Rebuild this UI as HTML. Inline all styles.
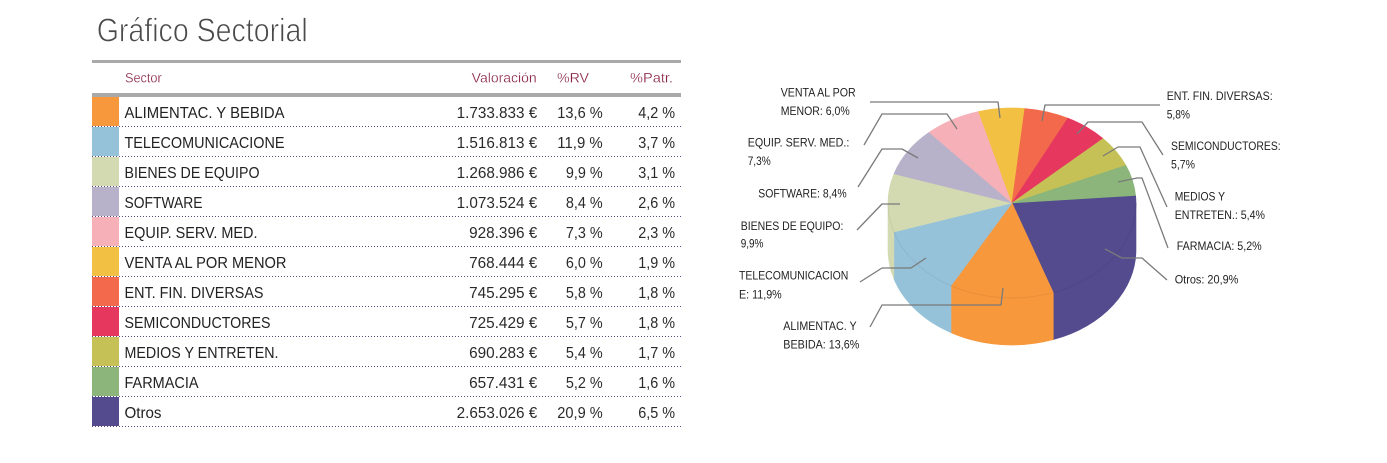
<!DOCTYPE html>
<html>
<head>
<meta charset="utf-8">
<style>
  html,body{margin:0;padding:0;background:#fff;}
  body{width:1387px;height:463px;overflow:hidden;}
  svg{display:block;}
  text{font-family:"Liberation Sans","DejaVu Sans",sans-serif;}
</style>
</head>
<body>
<svg width="1387" height="463" viewBox="0 0 1387 463" xmlns="http://www.w3.org/2000/svg">
  <rect width="1387" height="463" fill="#fff"/>

  <!-- Title -->
  <text x="96.7" y="41.7" font-size="33" fill="#4a4a4a" stroke="#fff" stroke-width="0.8" textLength="211" lengthAdjust="spacingAndGlyphs">Gráfico Sectorial</text>

  <!-- Table bars -->
  <rect x="92" y="60" width="589" height="3" fill="#a9a9a9"/>
  <rect x="92" y="93" width="589" height="4" fill="#a9a9a9"/>

  <!-- Header -->
  <g font-size="13.5" fill="#8a2447" stroke="#fff" stroke-width="0.2">
    <text x="125" y="82.5" textLength="36.7" lengthAdjust="spacingAndGlyphs">Sector</text>
    <text x="471.7" y="82.5" textLength="65" lengthAdjust="spacingAndGlyphs">Valoración</text>
    <text x="557" y="82.5" textLength="32" lengthAdjust="spacingAndGlyphs">%RV</text>
    <text x="630" y="82.5" textLength="43" lengthAdjust="spacingAndGlyphs">%Patr.</text>
  </g>

  <!-- Swatches -->
  <rect x="92" y="97" width="27" height="29" fill="#f7983d"/>
  <rect x="92" y="127" width="27" height="29" fill="#96c2d9"/>
  <rect x="92" y="157" width="27" height="29" fill="#d3dab1"/>
  <rect x="92" y="187" width="27" height="29" fill="#b8b1ca"/>
  <rect x="92" y="217" width="27" height="29" fill="#f5b0b8"/>
  <rect x="92" y="247" width="27" height="29" fill="#f2c043"/>
  <rect x="92" y="277" width="27" height="29" fill="#f26a4b"/>
  <rect x="92" y="307" width="27" height="29" fill="#e6375f"/>
  <rect x="92" y="337" width="27" height="29" fill="#c6c156"/>
  <rect x="92" y="367" width="27" height="29" fill="#8bb57a"/>
  <rect x="92" y="397" width="27" height="29" fill="#544a8e"/>

  <!-- Dotted separators -->
  <g stroke="#5a4a85" stroke-width="1" stroke-dasharray="1 2">
    <line x1="92" y1="126.5" x2="681" y2="126.5"/>
    <line x1="92" y1="156.5" x2="681" y2="156.5"/>
    <line x1="92" y1="186.5" x2="681" y2="186.5"/>
    <line x1="92" y1="216.5" x2="681" y2="216.5"/>
    <line x1="92" y1="246.5" x2="681" y2="246.5"/>
    <line x1="92" y1="276.5" x2="681" y2="276.5"/>
    <line x1="92" y1="306.5" x2="681" y2="306.5"/>
    <line x1="92" y1="336.5" x2="681" y2="336.5"/>
    <line x1="92" y1="366.5" x2="681" y2="366.5"/>
    <line x1="92" y1="396.5" x2="681" y2="396.5"/>
    <line x1="92" y1="426.5" x2="681" y2="426.5"/>
  </g>

  <!-- Row names -->
  <g font-size="16" fill="#222">
    <text x="124.5" y="118" textLength="160" lengthAdjust="spacingAndGlyphs">ALIMENTAC. Y BEBIDA</text>
    <text x="124.5" y="148" textLength="160" lengthAdjust="spacingAndGlyphs">TELECOMUNICACIONE</text>
    <text x="124.5" y="178" textLength="135" lengthAdjust="spacingAndGlyphs">BIENES DE EQUIPO</text>
    <text x="124.5" y="208" textLength="78" lengthAdjust="spacingAndGlyphs">SOFTWARE</text>
    <text x="124.5" y="238" textLength="133" lengthAdjust="spacingAndGlyphs">EQUIP. SERV. MED.</text>
    <text x="124.5" y="268" textLength="162" lengthAdjust="spacingAndGlyphs">VENTA AL POR MENOR</text>
    <text x="124.5" y="298" textLength="139" lengthAdjust="spacingAndGlyphs">ENT. FIN. DIVERSAS</text>
    <text x="124.5" y="328" textLength="146" lengthAdjust="spacingAndGlyphs">SEMICONDUCTORES</text>
    <text x="124.5" y="358" textLength="154" lengthAdjust="spacingAndGlyphs">MEDIOS Y ENTRETEN.</text>
    <text x="124.5" y="388" textLength="74" lengthAdjust="spacingAndGlyphs">FARMACIA</text>
    <text x="124.5" y="418" textLength="37" lengthAdjust="spacingAndGlyphs">Otros</text>
  </g>

  <!-- Valoración -->
  <g font-size="16" fill="#2a2a2a" text-anchor="end">
    <text x="537.3" y="118" textLength="80.7" lengthAdjust="spacingAndGlyphs">1.733.833 €</text>
    <text x="537.3" y="148" textLength="80.7" lengthAdjust="spacingAndGlyphs">1.516.813 €</text>
    <text x="537.3" y="178" textLength="80.7" lengthAdjust="spacingAndGlyphs">1.268.986 €</text>
    <text x="537.3" y="208" textLength="80.7" lengthAdjust="spacingAndGlyphs">1.073.524 €</text>
    <text x="537.3" y="238" textLength="68.2" lengthAdjust="spacingAndGlyphs">928.396 €</text>
    <text x="537.3" y="268" textLength="68.2" lengthAdjust="spacingAndGlyphs">768.444 €</text>
    <text x="537.3" y="298" textLength="68.2" lengthAdjust="spacingAndGlyphs">745.295 €</text>
    <text x="537.3" y="328" textLength="68.2" lengthAdjust="spacingAndGlyphs">725.429 €</text>
    <text x="537.3" y="358" textLength="68.2" lengthAdjust="spacingAndGlyphs">690.283 €</text>
    <text x="537.3" y="388" textLength="68.2" lengthAdjust="spacingAndGlyphs">657.431 €</text>
    <text x="537.3" y="418" textLength="80.7" lengthAdjust="spacingAndGlyphs">2.653.026 €</text>
  </g>

  <!-- %RV -->
  <g font-size="16" fill="#2a2a2a" text-anchor="end">
    <text x="602.7" y="118" textLength="45.4" lengthAdjust="spacingAndGlyphs">13,6 %</text>
    <text x="602.7" y="148" textLength="45.4" lengthAdjust="spacingAndGlyphs">11,9 %</text>
    <text x="602.7" y="178" textLength="36.8" lengthAdjust="spacingAndGlyphs">9,9 %</text>
    <text x="602.7" y="208" textLength="36.8" lengthAdjust="spacingAndGlyphs">8,4 %</text>
    <text x="602.7" y="238" textLength="36.8" lengthAdjust="spacingAndGlyphs">7,3 %</text>
    <text x="602.7" y="268" textLength="36.8" lengthAdjust="spacingAndGlyphs">6,0 %</text>
    <text x="602.7" y="298" textLength="36.8" lengthAdjust="spacingAndGlyphs">5,8 %</text>
    <text x="602.7" y="328" textLength="36.8" lengthAdjust="spacingAndGlyphs">5,7 %</text>
    <text x="602.7" y="358" textLength="36.8" lengthAdjust="spacingAndGlyphs">5,4 %</text>
    <text x="602.7" y="388" textLength="36.8" lengthAdjust="spacingAndGlyphs">5,2 %</text>
    <text x="602.7" y="418" textLength="45.4" lengthAdjust="spacingAndGlyphs">20,9 %</text>
  </g>

  <!-- %Patr -->
  <g font-size="16" fill="#2a2a2a" text-anchor="end">
    <text x="675" y="118" textLength="36.8" lengthAdjust="spacingAndGlyphs">4,2 %</text>
    <text x="675" y="148" textLength="36.8" lengthAdjust="spacingAndGlyphs">3,7 %</text>
    <text x="675" y="178" textLength="36.8" lengthAdjust="spacingAndGlyphs">3,1 %</text>
    <text x="675" y="208" textLength="36.8" lengthAdjust="spacingAndGlyphs">2,6 %</text>
    <text x="675" y="238" textLength="36.8" lengthAdjust="spacingAndGlyphs">2,3 %</text>
    <text x="675" y="268" textLength="36.8" lengthAdjust="spacingAndGlyphs">1,9 %</text>
    <text x="675" y="298" textLength="36.8" lengthAdjust="spacingAndGlyphs">1,8 %</text>
    <text x="675" y="328" textLength="36.8" lengthAdjust="spacingAndGlyphs">1,8 %</text>
    <text x="675" y="358" textLength="36.8" lengthAdjust="spacingAndGlyphs">1,7 %</text>
    <text x="675" y="388" textLength="36.8" lengthAdjust="spacingAndGlyphs">1,6 %</text>
    <text x="675" y="418" textLength="36.8" lengthAdjust="spacingAndGlyphs">6,5 %</text>
  </g>

  <!-- PIE: side walls -->
  <g stroke-width="0.6">
    <path d="M1136 203 A124 95 0 0 1 1053.3 292.6 L1053.3 339.6 A124 95 0 0 0 1136 250 Z" fill="#544a8e" stroke="#544a8e"/>
    <path d="M1053.3 292.6 A124 95 0 0 1 951 285.7 L951 332.7 A124 95 0 0 0 1053.3 339.6 Z" fill="#f7983d" stroke="#f7983d"/>
    <path d="M951 285.7 A124 95 0 0 1 893.9 231.9 L893.9 278.9 A124 95 0 0 0 951 332.7 Z" fill="#96c2d9" stroke="#96c2d9"/>
    <path d="M893.9 231.9 A124 95 0 0 1 888 203 L888 250 A124 95 0 0 0 893.9 278.9 Z" fill="#d3dab1" stroke="#d3dab1"/>
  </g>

  <!-- PIE: top faces -->
  <g stroke-width="0.6" stroke-linejoin="round">
    <path d="M1012 203 L1135.6 195.4 A124 95 0 0 1 1053.3 292.6 Z" fill="#544a8e" stroke="#544a8e"/>
    <path d="M1012 203 L1053.3 292.6 A124 95 0 0 1 951 285.7 Z" fill="#f7983d" stroke="#f7983d"/>
    <path d="M1012 203 L951 285.7 A124 95 0 0 1 893.9 231.9 Z" fill="#96c2d9" stroke="#96c2d9"/>
    <path d="M1012 203 L893.9 231.9 A124 95 0 0 1 894 173.8 Z" fill="#d3dab1" stroke="#d3dab1"/>
    <path d="M1012 203 L894 173.8 A124 95 0 0 1 929.2 132.3 Z" fill="#b8b1ca" stroke="#b8b1ca"/>
    <path d="M1012 203 L929.2 132.3 A124 95 0 0 1 978.5 111.5 Z" fill="#f5b0b8" stroke="#f5b0b8"/>
    <path d="M1012 203 L978.5 111.5 A124 95 0 0 1 1024.8 108.5 Z" fill="#f2c043" stroke="#f2c043"/>
    <path d="M1012 203 L1024.8 108.5 A124 95 0 0 1 1067.9 118.2 Z" fill="#f26a4b" stroke="#f26a4b"/>
    <path d="M1012 203 L1067.9 118.2 A124 95 0 0 1 1103.1 138.6 Z" fill="#e6375f" stroke="#e6375f"/>
    <path d="M1012 203 L1103.1 138.6 A124 95 0 0 1 1125.9 165.4 Z" fill="#c6c156" stroke="#c6c156"/>
    <path d="M1012 203 L1125.9 165.4 A124 95 0 0 1 1135.6 195.4 Z" fill="#8bb57a" stroke="#8bb57a"/>
  </g>
  <path d="M1136 203 A124 95 0 0 1 888 203" fill="none" stroke="rgba(0,0,0,0.06)" stroke-width="1"/>

  <!-- Leader lines -->
  <g fill="none" stroke="#7a7a7a" stroke-width="1.3" stroke-linejoin="round">
    <polyline points="870,102 998,102 1000,118"/>
    <polyline points="864,145 882,114 947,114 957,129"/>
    <polyline points="858,187 882,149 902,149 918,158"/>
    <polyline points="857,230 882,204 900,204"/>
    <polyline points="860,282 882,268 911,268 926,258"/>
    <polyline points="870,327 882,305 1001,305 1003,288"/>
    <polyline points="1042,121 1045,105 1160,105"/>
    <polyline points="1077,134 1088,122 1142,122 1163,155"/>
    <polyline points="1103,156 1118,147 1140,147 1167,207"/>
    <polyline points="1118,182 1137,178 1142,178 1168,248"/>
    <polyline points="1105,249 1122,258 1142,258 1167,280"/>
  </g>

  <!-- Pie labels -->
  <g font-size="11.5" fill="#222">
    <text x="780.7" y="96.7" textLength="75" lengthAdjust="spacingAndGlyphs">VENTA AL POR</text>
    <text x="780.7" y="115" textLength="69" lengthAdjust="spacingAndGlyphs">MENOR: 6,0%</text>
    <text x="747.7" y="146.7" textLength="101.7" lengthAdjust="spacingAndGlyphs">EQUIP. SERV. MED.:</text>
    <text x="747.7" y="165" textLength="23" lengthAdjust="spacingAndGlyphs">7,3%</text>
    <text x="758.3" y="197.3" textLength="88.3" lengthAdjust="spacingAndGlyphs">SOFTWARE: 8,4%</text>
    <text x="740.7" y="230" textLength="102.7" lengthAdjust="spacingAndGlyphs">BIENES DE EQUIPO:</text>
    <text x="740.7" y="247.7" textLength="22.7" lengthAdjust="spacingAndGlyphs">9,9%</text>
    <text x="739" y="279.3" textLength="109.3" lengthAdjust="spacingAndGlyphs">TELECOMUNICACION</text>
    <text x="739" y="298.3" textLength="42.7" lengthAdjust="spacingAndGlyphs">E: 11,9%</text>
    <text x="783.3" y="330" textLength="73.3" lengthAdjust="spacingAndGlyphs">ALIMENTAC. Y</text>
    <text x="783.3" y="348.3" textLength="76" lengthAdjust="spacingAndGlyphs">BEBIDA: 13,6%</text>
    <text x="1166.7" y="100" textLength="106" lengthAdjust="spacingAndGlyphs">ENT. FIN. DIVERSAS:</text>
    <text x="1166.7" y="118.3" textLength="23.3" lengthAdjust="spacingAndGlyphs">5,8%</text>
    <text x="1171" y="150" textLength="109.7" lengthAdjust="spacingAndGlyphs">SEMICONDUCTORES:</text>
    <text x="1171" y="168.3" textLength="24" lengthAdjust="spacingAndGlyphs">5,7%</text>
    <text x="1174.7" y="200.7" textLength="50.3" lengthAdjust="spacingAndGlyphs">MEDIOS Y</text>
    <text x="1174.7" y="219" textLength="90.3" lengthAdjust="spacingAndGlyphs">ENTRETEN.: 5,4%</text>
    <text x="1176.7" y="250" textLength="85" lengthAdjust="spacingAndGlyphs">FARMACIA: 5,2%</text>
    <text x="1174.7" y="283.3" textLength="63.7" lengthAdjust="spacingAndGlyphs">Otros: 20,9%</text>
  </g>
</svg>
</body>
</html>
